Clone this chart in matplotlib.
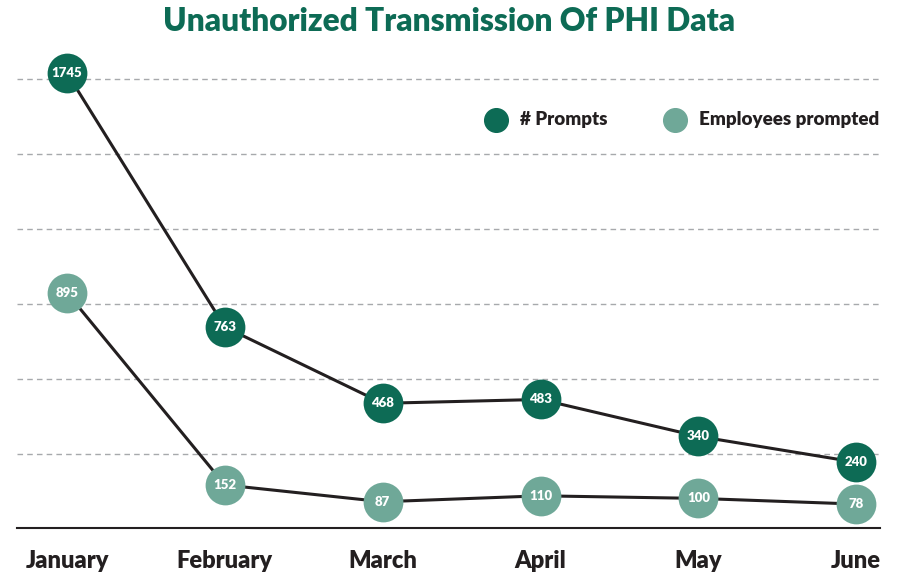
import matplotlib.pyplot as plt
import numpy as np

# Data
months = ['January', 'February', 'March', 'April', 'May', 'June']
prompts = [1745, 763, 468, 483, 340, 240]
employees = [895, 152, 87, 110, 100, 78]

dark = '#0d6b55'
light = '#6fa898'
ink = '#231f20'

plt.rcParams['font.family'] = ['Lato', 'DejaVu Sans']

fig = plt.figure(figsize=(8.99, 5.75), dpi=100)
ax = fig.add_axes([0.019, 0.082, 0.96, 0.848])

x = np.arange(len(months))

for vals, col in [(prompts, dark), (employees, light)]:
    ax.plot(x, vals, color=ink, lw=2.2, zorder=2)
    ax.scatter(x, vals, s=820, color=col, zorder=3, linewidths=0)
    for xi, v in zip(x, vals):
        ax.text(xi, v, str(v), color='white', fontsize=9.5, fontweight='heavy',
                ha='center', va='center', zorder=4)

ax.set_xlim(-0.317, 5.152)
ax.set_ylim(-14, 1873)

# Dashed grid
for g in np.arange(6) * 290 + 272:
    ax.axhline(g, color='#a7a9ac', lw=1, ls=(0, (4, 3)), zorder=1)

for s in ['top', 'right', 'left']:
    ax.spines[s].set_visible(False)
ax.spines['bottom'].set_color(ink)
ax.spines['bottom'].set_linewidth(1.5)
ax.set_yticks([])
ax.set_xticks(x)
ax.set_xticklabels(months, fontsize=17, fontweight='heavy', color=ink)
ax.tick_params(axis='x', length=0, pad=16)

fig.text(0.5, 0.962, 'Unauthorized Transmission Of PHI Data', ha='center', va='center',
         fontsize=22.8, fontweight='heavy', color=dark)

# Legend
ax.scatter([], [], s=290, color=dark, label='# Prompts')
ax.scatter([], [], s=290, color=light, label='Employees prompted')
leg = ax.legend(loc='upper right', bbox_to_anchor=(1.019, 0.89), ncol=2, frameon=False,
                prop={'weight': 'heavy', 'size': 13.5}, handletextpad=0.3,
                columnspacing=2.6, labelcolor=ink)

fig.savefig('out.png', dpi=100)
